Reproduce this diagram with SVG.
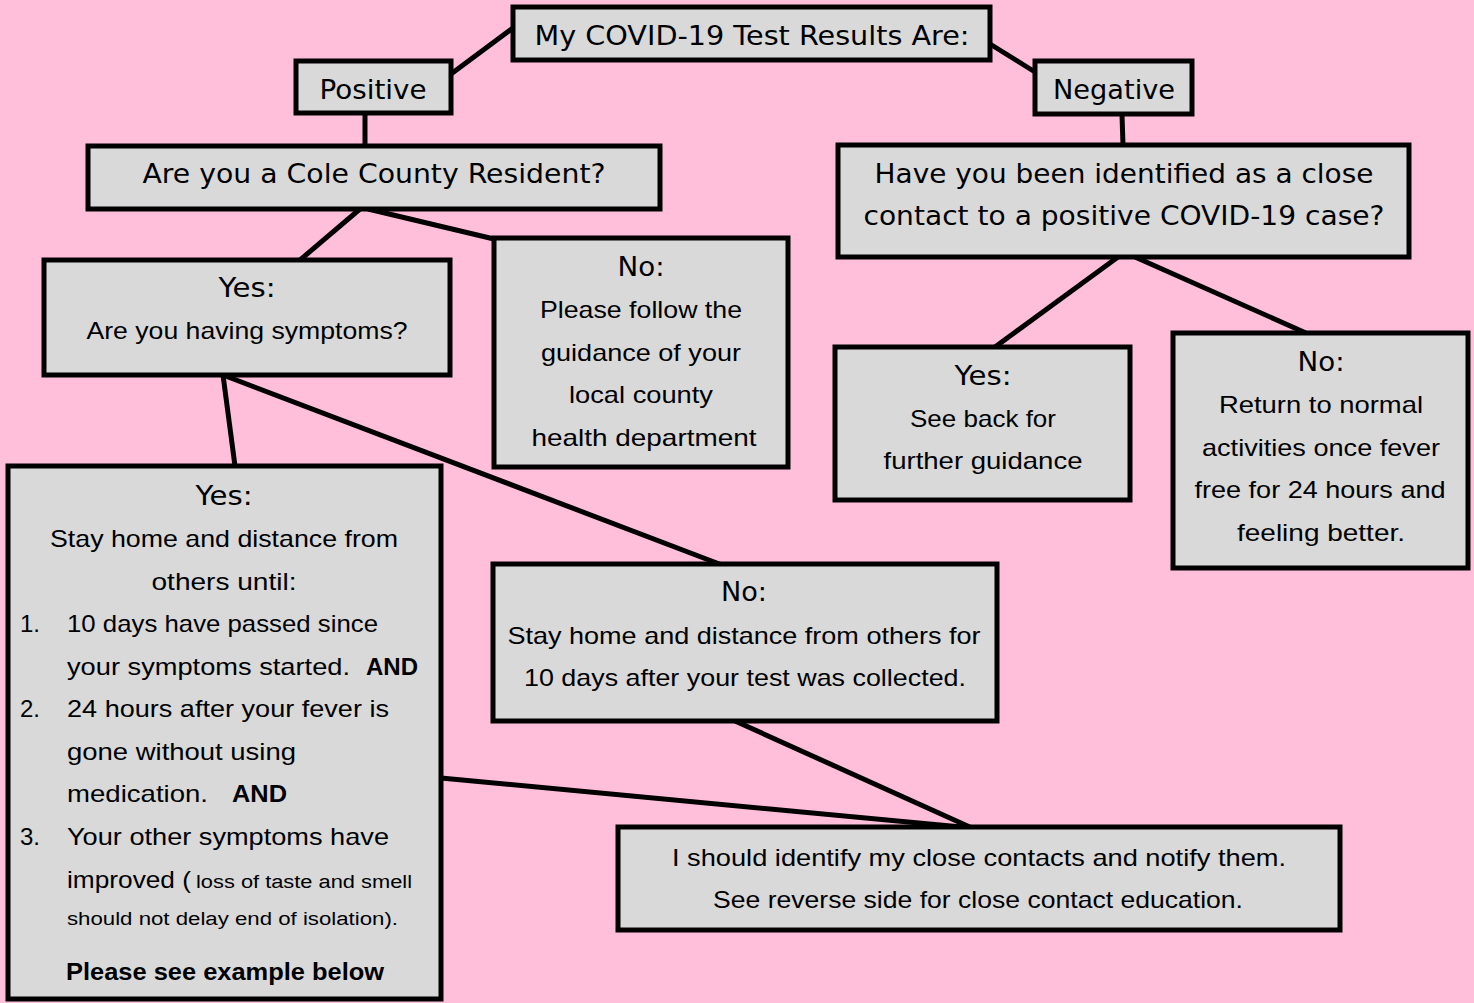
<svg xmlns="http://www.w3.org/2000/svg" width="1474" height="1003" viewBox="0 0 1474 1003">
<style>
.bg{fill:#FFBFDB}
.box{fill:#D9D9D9;stroke:#000;stroke-width:5}
.ln{stroke:#000;stroke-width:5;fill:none}
.h{font-family:"DejaVu Sans","Liberation Sans",sans-serif;font-size:27px;fill:#000;text-anchor:middle}
.b{font-family:"Liberation Sans","DejaVu Sans",sans-serif;font-size:24px;fill:#000;text-anchor:middle}
.bl{font-family:"Liberation Sans","DejaVu Sans",sans-serif;font-size:24px;fill:#000}
.sm{font-family:"Liberation Sans","DejaVu Sans",sans-serif;font-size:18px;fill:#000}
.bd{font-family:"Liberation Sans","DejaVu Sans",sans-serif;font-size:23px;font-weight:bold;fill:#000}
</style>
<rect class="bg" x="0" y="0" width="1474" height="1003"/>
<g id="connectors">
<line class="ln" x1="513" y1="28" x2="451" y2="74"/>
<line class="ln" x1="990" y1="44" x2="1035" y2="72"/>
<line class="ln" x1="365" y1="113" x2="365" y2="146"/>
<line class="ln" x1="1122" y1="115" x2="1123" y2="145"/>
<line class="ln" x1="360" y1="209" x2="300" y2="260"/>
<line class="ln" x1="368" y1="209" x2="494" y2="239"/>
<line class="ln" x1="1118" y1="257" x2="995" y2="347"/>
<line class="ln" x1="1135" y1="257" x2="1306" y2="333"/>
<line class="ln" x1="223" y1="375" x2="235" y2="466"/>
<line class="ln" x1="223" y1="375" x2="722" y2="565"/>
<line class="ln" x1="735" y1="721" x2="972" y2="828"/>
<line class="ln" x1="441" y1="778" x2="972" y2="828"/>
</g>
<g id="title">
<rect class="box" x="513" y="7" width="477" height="53"/>
<text class="h" x="752" y="45" textLength="435" lengthAdjust="spacingAndGlyphs">My COVID-19 Test Results Are:</text>
</g>
<g id="positive">
<rect class="box" x="296" y="61" width="155" height="52"/>
<text class="h" x="373" y="99" textLength="107" lengthAdjust="spacingAndGlyphs">Positive</text>
</g>
<g id="negative">
<rect class="box" x="1035" y="61" width="157" height="53"/>
<text class="h" x="1114" y="99" textLength="122" lengthAdjust="spacingAndGlyphs">Negative</text>
</g>
<g id="cole">
<rect class="box" x="88" y="146" width="572" height="63"/>
<text class="h" x="374" y="183" textLength="463" lengthAdjust="spacingAndGlyphs">Are you a Cole County Resident?</text>
</g>
<g id="closecontact">
<rect class="box" x="838" y="145" width="571" height="112"/>
<text class="h" x="1124" y="183" textLength="499" lengthAdjust="spacingAndGlyphs">Have you been identified as a close</text>
<text class="h" x="1124" y="225" textLength="521" lengthAdjust="spacingAndGlyphs">contact to a positive COVID-19 case?</text>
</g>
<g id="yes-symptoms">
<rect class="box" x="44" y="260" width="406" height="115"/>
<text class="h" x="247" y="297" textLength="57" lengthAdjust="spacingAndGlyphs">Yes:</text>
<text class="b" x="247" y="339" textLength="321" lengthAdjust="spacingAndGlyphs">Are you having symptoms?</text>
</g>
<g id="no-local">
<rect class="box" x="494" y="238" width="294" height="229"/>
<text class="h" x="641" y="276" textLength="47" lengthAdjust="spacingAndGlyphs">No:</text>
<text class="b" x="641" y="318" textLength="202" lengthAdjust="spacingAndGlyphs">Please follow the</text>
<text class="b" x="641" y="361" textLength="200" lengthAdjust="spacingAndGlyphs">guidance of your</text>
<text class="b" x="641" y="403" textLength="144" lengthAdjust="spacingAndGlyphs">local county</text>
<text class="b" x="644" y="446" textLength="225" lengthAdjust="spacingAndGlyphs">health department</text>
</g>
<g id="yes-contact">
<rect class="box" x="835" y="347" width="295" height="153"/>
<text class="h" x="983" y="385" textLength="57" lengthAdjust="spacingAndGlyphs">Yes:</text>
<text class="b" x="983" y="427" textLength="146" lengthAdjust="spacingAndGlyphs">See back for</text>
<text class="b" x="983" y="469" textLength="199" lengthAdjust="spacingAndGlyphs">further guidance</text>
</g>
<g id="no-contact">
<rect class="box" x="1173" y="333" width="295" height="235"/>
<text class="h" x="1321" y="371" textLength="47" lengthAdjust="spacingAndGlyphs">No:</text>
<text class="b" x="1321" y="413" textLength="204" lengthAdjust="spacingAndGlyphs">Return to normal</text>
<text class="b" x="1321" y="456" textLength="238" lengthAdjust="spacingAndGlyphs">activities once fever</text>
<text class="b" x="1320" y="498" textLength="251" lengthAdjust="spacingAndGlyphs">free for 24 hours and</text>
<text class="b" x="1321" y="541" textLength="168" lengthAdjust="spacingAndGlyphs">feeling better.</text>
</g>
<g id="yes-isolate">
<rect class="box" x="8" y="466" width="433" height="533"/>
<text class="h" x="224" y="505" textLength="57" lengthAdjust="spacingAndGlyphs">Yes:</text>
<text class="b" x="224" y="547" textLength="348" lengthAdjust="spacingAndGlyphs">Stay home and distance from</text>
<text class="b" x="224" y="590" textLength="145" lengthAdjust="spacingAndGlyphs">others until:</text>
<text class="bl" x="20" y="632">1.</text>
<text class="bl" x="67" y="632" textLength="311" lengthAdjust="spacingAndGlyphs">10 days have passed since</text>
<text class="bl" x="67" y="675" textLength="283" lengthAdjust="spacingAndGlyphs">your symptoms started.</text>
<text class="bd" x="366" y="675" textLength="52" lengthAdjust="spacingAndGlyphs">AND</text>
<text class="bl" x="20" y="717">2.</text>
<text class="bl" x="67" y="717" textLength="322" lengthAdjust="spacingAndGlyphs">24 hours after your fever is</text>
<text class="bl" x="67" y="760" textLength="229" lengthAdjust="spacingAndGlyphs">gone without using</text>
<text class="bl" x="67" y="802" textLength="141" lengthAdjust="spacingAndGlyphs">medication.</text>
<text class="bd" x="232" y="802" textLength="55" lengthAdjust="spacingAndGlyphs">AND</text>
<text class="bl" x="20" y="845">3.</text>
<text class="bl" x="67" y="845" textLength="322" lengthAdjust="spacingAndGlyphs">Your other symptoms have</text>
<text class="bl" x="67" y="888" font-size="26" textLength="124" lengthAdjust="spacingAndGlyphs">improved (</text>
<text class="sm" x="196" y="888" textLength="216" lengthAdjust="spacingAndGlyphs">loss of taste and smell</text>
<text class="sm" x="67" y="925" textLength="331" lengthAdjust="spacingAndGlyphs">should not delay end of isolation).</text>
<text class="bd" x="66" y="980" textLength="318" lengthAdjust="spacingAndGlyphs">Please see example below</text>
</g>
<g id="no-isolate">
<rect class="box" x="493" y="564" width="504" height="157"/>
<text class="h" x="744" y="601" textLength="46" lengthAdjust="spacingAndGlyphs">No:</text>
<text class="b" x="744" y="644" textLength="473" lengthAdjust="spacingAndGlyphs">Stay home and distance from others for</text>
<text class="b" x="745" y="686" textLength="442" lengthAdjust="spacingAndGlyphs">10 days after your test was collected.</text>
</g>
<g id="contacts">
<rect class="box" x="618" y="827" width="722" height="103"/>
<text class="b" x="979" y="866" textLength="614" lengthAdjust="spacingAndGlyphs">I should identify my close contacts and notify them.</text>
<text class="b" x="978" y="908" textLength="530" lengthAdjust="spacingAndGlyphs">See reverse side for close contact education.</text>
</g>
</svg>
